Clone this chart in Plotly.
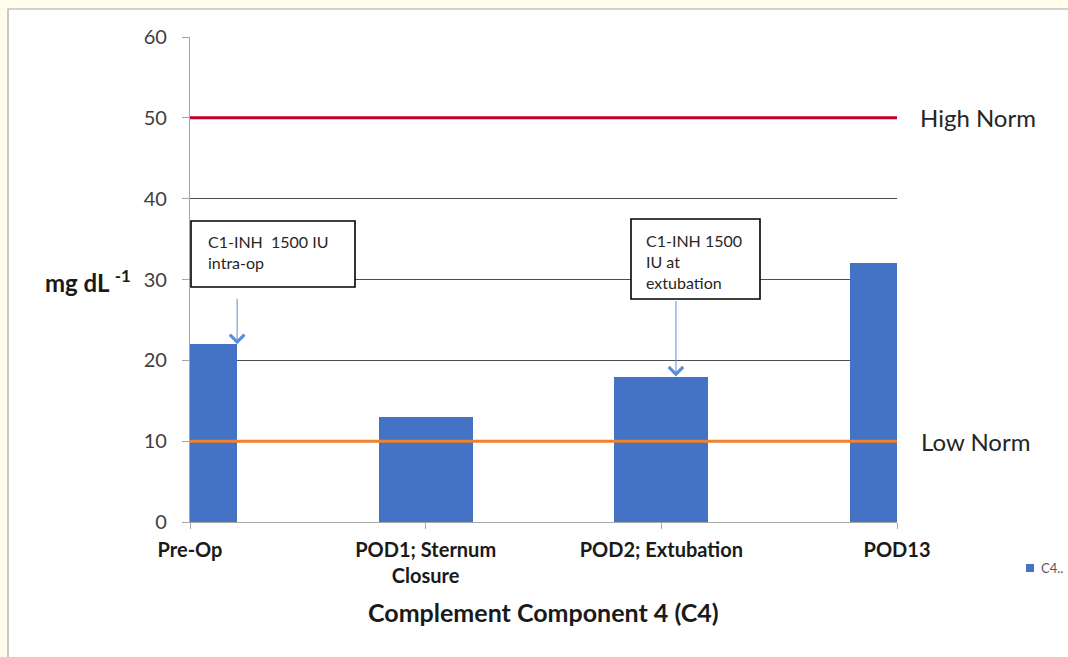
import plotly.graph_objects as go

# C4 levels across the perioperative course
categories = ["Pre-Op", "POD1; Sternum<br>Closure", "POD2; Extubation", "POD13"]
c4_values = [22, 13, 18, 32]
series_name = "C4.."

# reference range limits (mg/dL)
high_norm = 50
low_norm = 10
y_ticks = [0, 10, 20, 30, 40, 50, 60]

FONT = "Lato"
BAR_COLOR = "#4472C4"
x_pos = list(range(len(categories)))

# plot-area geometry in pixels, used to place boxes/labels in paper units
L, R, T, B = 190, 897, 37, 522
PW, PH = R - L, B - T


def px(x):
    return (x - L) / PW


def py(y):
    return (B - y) / PH


fig = go.Figure()

fig.add_trace(go.Bar(
    x=x_pos, y=c4_values, width=0.4, name=series_name,
    marker=dict(color=BAR_COLOR, line=dict(width=0)),
    showlegend=False,
))

# normal-range lines drawn across the full category span
fig.add_trace(go.Scatter(
    x=[x_pos[0], x_pos[-1]], y=[high_norm, high_norm], mode="lines",
    line=dict(color="#C0002B", width=3), showlegend=False, hoverinfo="skip",
))
fig.add_trace(go.Scatter(
    x=[x_pos[0], x_pos[-1]], y=[low_norm, low_norm], mode="lines",
    line=dict(color="#F0812F", width=3), showlegend=False, hoverinfo="skip",
))

annotations = [
    # norm labels on the right
    dict(text="High Norm", xref="paper", yref="y", x=px(918), y=high_norm,
         xanchor="left", yanchor="middle", showarrow=False,
         font=dict(family=FONT, size=24, color="#262626")),
    dict(text="Low Norm", xref="paper", yref="y", x=px(919), y=low_norm,
         xanchor="left", yanchor="middle", showarrow=False,
         font=dict(family=FONT, size=24, color="#262626")),
    # axis titles
    dict(text="<b>Complement Component 4 (C4)</b>", xref="paper", yref="paper",
         x=0.5, y=py(612), xanchor="center", yanchor="middle", showarrow=False,
         font=dict(family=FONT, size=25, color="#1a1a1a")),
    dict(text="<b>mg dL <sup>-1</sup></b>", xref="paper", yref="paper",
         x=px(88), y=py(281), xanchor="center", yanchor="middle", showarrow=False,
         font=dict(family=FONT, size=24, color="#1a1a1a")),
    # dosing call-out texts
    dict(text="C1-INH&nbsp; 1500 IU<br>intra-op", xref="paper", yref="paper",
         x=px(206), y=py(252), xanchor="left", yanchor="middle",
         showarrow=False, align="left",
         font=dict(family=FONT, size=16, color="#262626")),
    dict(text="C1-INH 1500<br>IU at<br>extubation", xref="paper", yref="paper",
         x=px(644), y=py(261), xanchor="left", yanchor="middle",
         showarrow=False, align="left",
         font=dict(family=FONT, size=16, color="#262626")),
    # arrows pointing at the dosed time points
    dict(text="", x=x_pos[0] + 0.2, y=c4_values[0], xref="x", yref="y",
         ax=0, ay=-47, showarrow=True, arrowhead=4, arrowsize=2.8,
         arrowwidth=1, arrowcolor="#5B8BD9"),
    dict(text="", x=x_pos[2] + 0.062, y=c4_values[2], xref="x", yref="y",
         ax=0, ay=-77, showarrow=True, arrowhead=4, arrowsize=2.8,
         arrowwidth=1, arrowcolor="#5B8BD9"),
    # series key
    dict(text=series_name, xref="paper", yref="paper",
         x=px(1039), y=py(568), xanchor="left", yanchor="middle", showarrow=False,
         font=dict(family=FONT, size=13, color="#595959")),
]

shapes = [
    # outer chart frame
    dict(type="rect", xref="paper", yref="paper", layer="below",
         x0=px(8), x1=px(1080), y0=py(670), y1=py(9),
         line=dict(color="#A6A6A6", width=1.2), fillcolor="#FFFFFF"),
    # call-out boxes
    dict(type="rect", xref="paper", yref="paper", layer="above",
         x0=px(191), x1=px(355), y0=py(287), y1=py(221),
         line=dict(color="#000000", width=1.6), fillcolor="#FFFFFF"),
    dict(type="rect", xref="paper", yref="paper", layer="above",
         x0=px(631), x1=px(760), y0=py(299), y1=py(219),
         line=dict(color="#000000", width=1.6), fillcolor="#FFFFFF"),
    # series key swatch
    dict(type="rect", xref="paper", yref="paper", layer="above",
         x0=px(1026), x1=px(1034), y0=py(572), y1=py(564),
         line=dict(width=0), fillcolor=BAR_COLOR),
]

fig.update_layout(
    width=1068, height=657,
    margin=dict(l=L, r=1068 - R, t=T, b=657 - B, autoexpand=False),
    paper_bgcolor="#FFFCEB",
    plot_bgcolor="#FFFFFF",
    annotations=annotations,
    shapes=shapes,
    bargap=0,
    showlegend=False,
    xaxis=dict(range=[0, 3], tickmode="array", tickvals=x_pos, ticktext=categories,
               showgrid=False, zeroline=False,
               showline=True, linecolor="#A6A6A6", linewidth=1.2,
               ticks="outside", ticklen=6, tickcolor="#A6A6A6",
               ticklabelstandoff=4,
               tickfont=dict(family=FONT, size=20, color="#1a1a1a", weight="bold")),
    yaxis=dict(range=[0, 60], tickmode="array", tickvals=y_ticks,
               showgrid=True, gridcolor="#4D4D4D", gridwidth=1.2, zeroline=False,
               showline=True, linecolor="#A6A6A6", linewidth=1.2,
               ticks="outside", ticklen=7, tickcolor="#A6A6A6",
               ticklabelstandoff=11,
               tickfont=dict(family=FONT, size=20, color="#404040")),
    font=dict(family=FONT),
)

fig.write_html("out.html")
